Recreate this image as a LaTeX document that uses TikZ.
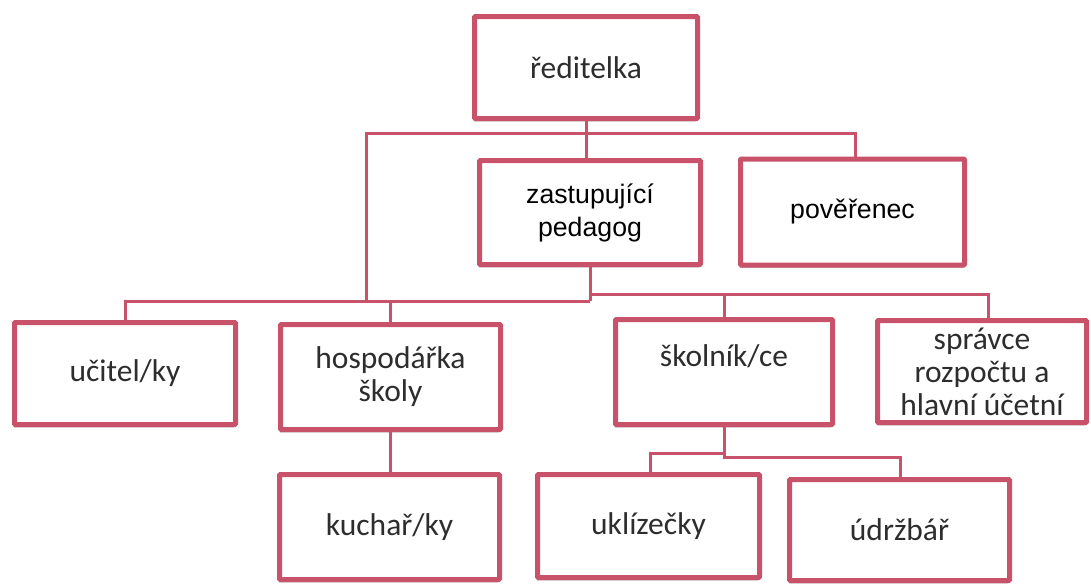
\documentclass[tikz,border=0pt]{standalone}
\usepackage{fontspec}
\setmainfont{Carlito}
\newfontfamily\arialf{Liberation Sans}
\usetikzlibrary{shadows}
\definecolor{boxred}{RGB}{200,82,106}
\definecolor{txt}{RGB}{45,45,45}
\tikzset{
  x=1pt, y=-1pt,
  orgbox/.style={draw=boxred, line width=5pt, fill=white, rounded corners=1pt,
    align=center, inner sep=2pt, text=txt,
    font=\fontsize{31.5}{33}\selectfont,
    drop shadow={shadow xshift=-1pt, shadow yshift=-3pt, fill=black!35, opacity=0.6}},
  arialbox/.style={orgbox, text=black, font=\arialf\fontsize{26.7}{33}\selectfont},
  conn/.style={draw=boxred, line width=3pt}
}
\begin{document}
\begin{tikzpicture}
\useasboundingbox (0,0) rectangle (1091,584);
\coordinate (t1) at (366,133);
\coordinate (t2) at (855,133);
\coordinate (l2L) at (125,301);
\coordinate (l2R) at (988,294);
\coordinate (l3L) at (650,453);
\coordinate (l3R) at (900,457);

% boxes
\node[orgbox, minimum width=223pt, minimum height=102pt] (red) at (586,67.5) {ředitelka};
\node[arialbox, minimum width=221pt, minimum height=104pt] (zast) at (590,212.5) {zastupující\\pedagog};
\node[arialbox, minimum width=224pt, minimum height=106pt] (pov) at (852.5,212) {pověřenec};
\node[orgbox, minimum width=221pt, minimum height=102pt] (ucit) at (125,373.5) {učitel/ky};
\node[orgbox, minimum width=220pt, minimum height=105pt] (hosp) at (390.5,377) {hospodářka\\školy};
\node[orgbox, minimum width=217pt, minimum height=105pt] (skol) at (724,372) {školník/ce\\\mbox{}};
\node[orgbox, minimum width=209pt, minimum height=102pt] (sprav) at (982,371.5) {správce\\rozpočtu a\\hlavní účetní};
\node[orgbox, minimum width=220pt, minimum height=105pt] (kuch) at (389.5,527) {kuchař/ky};
\node[orgbox, minimum width=222pt, minimum height=103pt] (ukl) at (648.5,526) {uklízečky};
\node[orgbox, minimum width=220pt, minimum height=101pt] (udr) at (899.5,530) {údržbář};

% connectors
\draw[conn] (red.south) -- (red.south |- t1);
\draw[conn] (t1 |- l2L) -- (t1) -- (t2) -- (t2 |- pov.north);
\draw[conn] (red.south |- t1) -- (red.south |- zast.north);
\draw[conn] (zast.south) -- (zast.south |- l2L);
\draw[conn] (ucit.north) -- (ucit.north |- l2L) -- (zast.south |- l2L);
\draw[conn] (hosp.north) -- (hosp.north |- l2L);
\draw[conn] (zast.south |- l2R) -- (l2R) -- (l2R |- sprav.north);
\draw[conn] (skol.north) -- (skol.north |- l2R);
\draw[conn] (hosp.south) -- (hosp.south |- kuch.north);
\draw[conn] (skol.south) -- (skol.south |- l3R) -- (l3R) -- (l3R |- udr.north);
\draw[conn] (skol.south |- l3L) -- (l3L) -- (l3L |- ukl.north);
\end{tikzpicture}
\end{document}
